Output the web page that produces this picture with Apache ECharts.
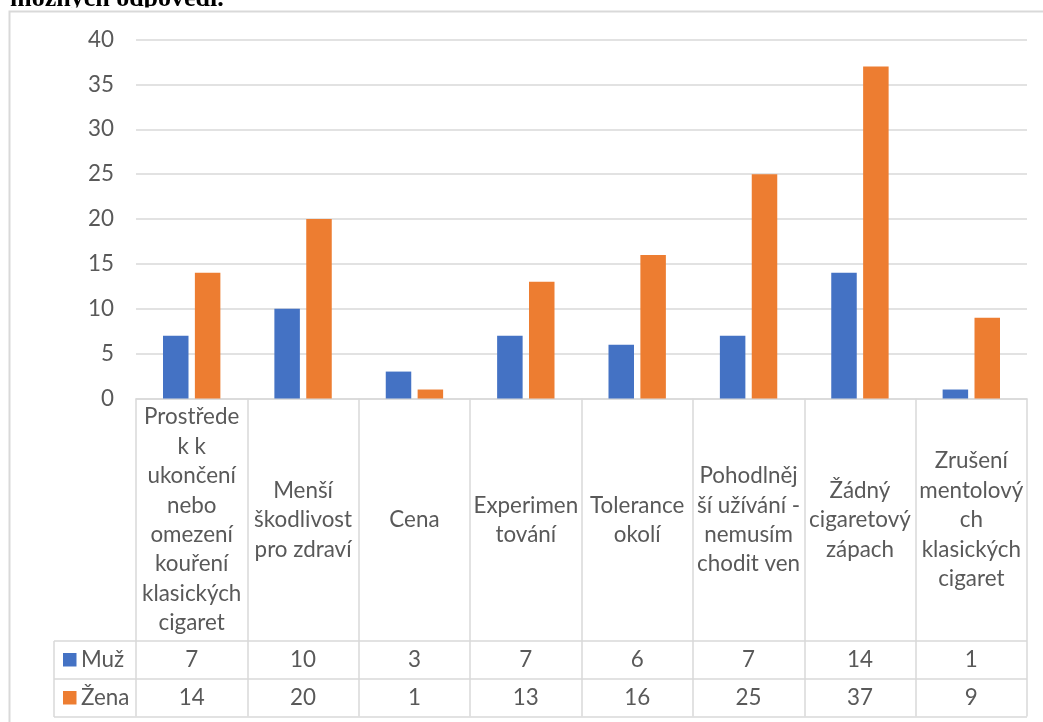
<!DOCTYPE html>
<html>
<head>
<meta charset="utf-8">
<title>Důvody užívání</title>
<script src="https://cdn.jsdelivr.net/npm/echarts@6/dist/echarts.min.js"></script>
<style>
  html, body { margin: 0; padding: 0; background: #fff; }
  #chart { width: 1043px; height: 722px; }
</style>
</head>
<body>
<div id="chart"></div>
<script>
// Category labels, wrapped the way they appear in the table header cells
const categories = [
  'Prostřede\nk k\nukončení\nnebo\nomezení\nkouření\nklasických\ncigaret',
  'Menší\nškodlivost\npro zdraví',
  'Cena',
  'Experimen\ntování',
  'Tolerance\nokolí',
  'Pohodlněj\nší užívání -\nnemusím\nchodit ven',
  'Žádný\ncigaretový\nzápach',
  'Zrušení\nmentolový\nch\nklasických\ncigaret'
];
const seriesNames = ['Muž', 'Žena'];
const valuesMuz = [7, 10, 3, 7, 6, 7, 14, 1];
const valuesZena = [14, 20, 1, 13, 16, 25, 37, 9];
const yTicks = [0, 5, 10, 15, 20, 25, 30, 35, 40];
const titleText = 'možných odpovědí.';

const colors = ['#4472C4', '#ED7D31'];
const textColor = '#595959';
const lineColor = '#d9d9d9';
const font = 'Lato, "Noto Sans", sans-serif';
const fontSize = 22.4;

// table geometry (data-table rows under the plot)
const tableLeft = 54;
const rowTops = [641, 679];
const rowHeight = 38;

const chart = echarts.init(document.getElementById('chart'), null, { renderer: 'canvas' });

const option = {
  animation: false,
  backgroundColor: '#ffffff',
  color: colors,
  grid: { left: 136, right: 16, top: 39.5, bottom: 323.5, containLabel: false },
  xAxis: {
    type: 'category',
    data: categories,
    boundaryGap: true,
    axisLine: { show: true, lineStyle: { color: lineColor, width: 1.5 } },
    axisTick: { show: true, inside: false, length: 318, lineStyle: { color: lineColor, width: 1.5 } },
    axisLabel: {
      interval: 0,
      margin: 121.5,
      verticalAlign: 'middle',
      align: 'center',
      color: textColor,
      fontFamily: font,
      fontSize: fontSize,
      lineHeight: 29.4,
      hideOverlap: false
    },
    splitLine: { show: false }
  },
  yAxis: {
    type: 'value',
    min: yTicks[0],
    max: yTicks[yTicks.length - 1],
    interval: yTicks[1] - yTicks[0],
    axisLine: { show: false },
    axisTick: { show: false },
    axisLabel: {
      margin: 22,
      color: textColor,
      fontFamily: font,
      fontSize: fontSize
    },
    splitLine: { show: true, lineStyle: { color: lineColor, width: 1.5 } }
  },
  series: [
    {
      name: seriesNames[0],
      type: 'bar',
      data: valuesMuz,
      barWidth: 25.5,
      barGap: '25%',
      itemStyle: { color: colors[0] }
    },
    {
      name: seriesNames[1],
      type: 'bar',
      data: valuesZena,
      barWidth: 25.5,
      barGap: '25%',
      itemStyle: { color: colors[1] }
    }
  ]
};

chart.setOption(option);

// Data table rows, title strip and chart frame
function buildGraphics() {
  const els = [];
  const rightEdge = chart.convertToPixel({ xAxisIndex: 0 }, categories.length - 1)
    + (chart.convertToPixel({ xAxisIndex: 0 }, 1) - chart.convertToPixel({ xAxisIndex: 0 }, 0)) / 2;

  // heading text above the chart frame
  els.push({
    type: 'text', x: 10, y: -1, z: 1,
    style: {
      text: titleText, fill: '#000',
      font: 'bold 26px "Liberation Serif", "Times New Roman", serif',
      textAlign: 'left', textVerticalAlign: 'middle', align: 'left', verticalAlign: 'middle'
    }
  });
  // white cover below the heading, then the frame of the chart area
  els.push({ type: 'rect', z: 2, shape: { x: 0, y: 7.5, width: 1043, height: 4 }, style: { fill: '#fff' } });
  els.push({
    type: 'rect', z: 2, silent: true,
    shape: { x: 9.5, y: 11.5, width: 1100, height: 800 },
    style: { fill: 'none', stroke: lineColor, lineWidth: 2 }
  });

  // horizontal rules of the table
  const ruleYs = [rowTops[0], rowTops[1], rowTops[1] + rowHeight];
  ruleYs.forEach(function (y) {
    els.push({
      type: 'line', z: 3,
      shape: { x1: tableLeft, y1: y, x2: rightEdge, y2: y },
      style: { stroke: lineColor, lineWidth: 1.5 }
    });
  });
  // left edge of the legend column
  els.push({
    type: 'line', z: 3,
    shape: { x1: tableLeft, y1: rowTops[0], x2: tableLeft, y2: rowTops[1] + rowHeight },
    style: { stroke: lineColor, lineWidth: 1.5 }
  });

  const rows = [valuesMuz, valuesZena];
  rows.forEach(function (vals, r) {
    const cy = rowTops[r] + rowHeight / 2;
    // legend key + series name
    els.push({
      type: 'rect', z: 4,
      shape: { x: 63, y: cy - 7, width: 13.5, height: 13.5 },
      style: { fill: colors[r] }
    });
    els.push({
      type: 'text', z: 4, x: 81, y: cy,
      style: {
        text: seriesNames[r], fill: textColor,
        font: fontSize + 'px ' + font,
        textAlign: 'left', textVerticalAlign: 'middle', align: 'left', verticalAlign: 'middle'
      }
    });
    // value cells
    vals.forEach(function (v, i) {
      const cx = chart.convertToPixel({ xAxisIndex: 0 }, i);
      els.push({
        type: 'text', z: 4, x: cx, y: cy,
        style: {
          text: String(v), fill: textColor,
          font: fontSize + 'px ' + font,
          textAlign: 'center', textVerticalAlign: 'middle', align: 'center', verticalAlign: 'middle'
        }
      });
    });
  });
  return els;
}

chart.setOption({ graphic: { elements: buildGraphics() } });
</script>
</body>
</html>
